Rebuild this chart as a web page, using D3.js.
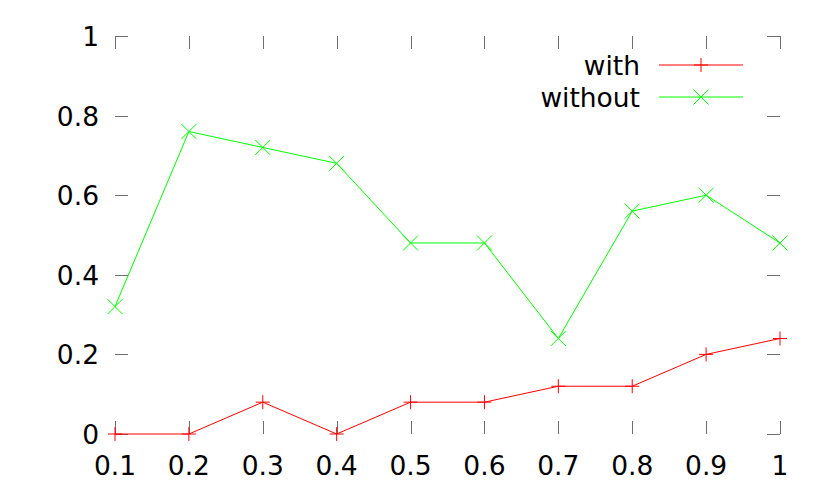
<!DOCTYPE html>
<html>
<head>
<meta charset="utf-8">
<script src="https://cdn.jsdelivr.net/npm/d3@7"></script>
<style>
  body { margin: 0; background: #fff; }
  svg text { font-family: "DejaVu Sans", sans-serif; font-size: 26.5px; fill: #000; }
</style>
</head>
<body>
<div id="chart"></div>
<script>
// x values and the two series
const xValues = [0.1, 0.2, 0.3, 0.4, 0.5, 0.6, 0.7, 0.8, 0.9, 1];
const withValues = [0, 0, 0.08, 0, 0.08, 0.08, 0.12, 0.12, 0.2, 0.24];
const withoutValues = [0.32, 0.76, 0.72, 0.68, 0.48, 0.48, 0.24, 0.56, 0.6, 0.48];
const yTicks = [0, 0.2, 0.4, 0.6, 0.8, 1];
const xTicks = [0.1, 0.2, 0.3, 0.4, 0.5, 0.6, 0.7, 0.8, 0.9, 1];

const width = 830, height = 498;
const plotLeft = 115, plotRight = 780, plotTop = 36, plotBottom = 434;
const tickLen = 13;
const tickColor = '#6e6e6e';

const svg = d3.select('#chart').append('svg')
  .attr('width', width)
  .attr('height', height);

const x = d3.scaleLinear().domain([0.1, 1]).range([plotLeft, plotRight]);
const y = d3.scaleLinear().domain([0, 1]).range([plotBottom, plotTop]);

const fmt = d => String(+d.toFixed(1));

// ticks (inward, mirrored)
const ticks = svg.append('g').attr('stroke', tickColor).attr('stroke-width', 1);
xTicks.forEach(t => {
  const px = Math.round(x(t)) + 0.5;
  ticks.append('line').attr('x1', px).attr('x2', px).attr('y1', plotBottom).attr('y2', plotBottom - tickLen);
  ticks.append('line').attr('x1', px).attr('x2', px).attr('y1', plotTop).attr('y2', plotTop + tickLen);
});
yTicks.forEach(t => {
  const py = Math.round(y(t)) + 0.5;
  ticks.append('line').attr('x1', plotLeft).attr('x2', plotLeft + tickLen).attr('y1', py).attr('y2', py);
  ticks.append('line').attr('x1', plotRight).attr('x2', plotRight - tickLen).attr('y1', py).attr('y2', py);
});

// tick labels
svg.append('g').selectAll('text')
  .data(xTicks)
  .join('text')
  .attr('x', d => x(d))
  .attr('y', 475)
  .attr('text-anchor', 'middle')
  .text(fmt);

svg.append('g').selectAll('text')
  .data(yTicks)
  .join('text')
  .attr('x', 99)
  .attr('y', d => y(d) + 10)
  .attr('text-anchor', 'end')
  .text(fmt);

// series
const series = [
  { name: 'with', values: withValues, color: '#ff0000', marker: 'plus' },
  { name: 'without', values: withoutValues, color: '#00ff00', marker: 'cross' }
];

function drawMarker(g, type, cx, cy, color) {
  const s = type === 'plus' ? 7 : 7.5;
  const m = g.append('g').attr('stroke', color).attr('stroke-width', 1);
  if (type === 'plus') {
    m.append('line').attr('x1', cx - s).attr('x2', cx + s).attr('y1', cy).attr('y2', cy);
    m.append('line').attr('x1', cx).attr('x2', cx).attr('y1', cy - s).attr('y2', cy + s);
  } else {
    m.append('line').attr('x1', cx - s).attr('x2', cx + s).attr('y1', cy - s).attr('y2', cy + s);
    m.append('line').attr('x1', cx - s).attr('x2', cx + s).attr('y1', cy + s).attr('y2', cy - s);
  }
}

const line = d3.line()
  .x((d, i) => x(xValues[i]))
  .y(d => y(d));

series.forEach((s, k) => {
  const g = svg.append('g');
  g.append('path')
    .attr('d', line(s.values))
    .attr('fill', 'none')
    .attr('stroke', s.color)
    .attr('stroke-width', 1);
  s.values.forEach((v, i) => drawMarker(g, s.marker, x(xValues[i]), y(v), s.color));

  // legend
  const ly = 65 + k * 32;
  svg.append('text')
    .attr('x', 640)
    .attr('y', ly + 10)
    .attr('text-anchor', 'end')
    .text(s.name);
  svg.append('line')
    .attr('x1', 659).attr('x2', 743)
    .attr('y1', ly).attr('y2', ly)
    .attr('stroke', s.color).attr('stroke-width', 1);
  drawMarker(svg, s.marker, 701, ly, s.color);
});
</script>
</body>
</html>
